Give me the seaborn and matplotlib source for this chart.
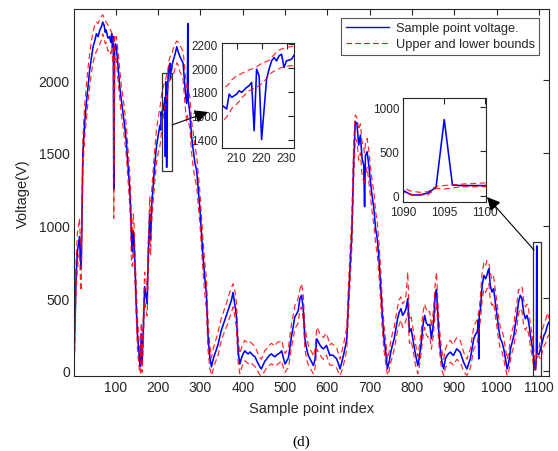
import matplotlib
matplotlib.use("Agg")
import matplotlib.pyplot as plt
from matplotlib.lines import Line2D
from matplotlib.patches import Rectangle, FancyArrowPatch
import seaborn as sns
import pandas as pd

# ---------------- data ----------------
sample_idx = [1, 3, 6, 9, 12, 14, 16, 18, 20, 22, 26, 30, 34, 38, 42, 46, 50, 54, 58, 62,
              66, 69, 72, 75, 77, 81, 85, 88, 90, 92, 94, 95, 97, 99, 101, 105, 109, 113, 117, 121,
              125, 129, 133, 135, 137, 139, 141, 143, 146, 148, 151, 154, 156, 158, 160, 162, 165, 168, 171, 174,
              176, 178, 180, 182, 185, 188, 192, 196, 200, 204, 206, 207, 208, 210, 211, 212, 214, 215, 216, 217,
              218, 219, 220, 222, 223, 224, 225, 226, 227, 228, 229, 230, 232, 233, 236, 240, 244, 248, 251, 255,
              259, 263, 267, 269, 270, 271, 275, 279, 283, 287, 291, 295, 299, 303, 306, 310, 314, 318, 322, 326,
              330, 334, 338, 342, 346, 349, 353, 357, 361, 365, 369, 373, 377, 381, 385, 389, 393, 397, 401, 405,
              409, 413, 417, 421, 425, 429, 433, 437, 441, 444, 448, 452, 456, 460, 464, 468, 472, 476, 480, 484,
              488, 492, 496, 500, 504, 508, 512, 515, 519, 523, 527, 531, 535, 539, 543, 547, 551, 555, 559, 563,
              567, 571, 575, 579, 583, 587, 591, 595, 598, 602, 606, 610, 614, 618, 622, 626, 630, 634, 638, 642,
              646, 650, 654, 658, 662, 666, 670, 674, 678, 682, 686, 688, 690, 694, 698, 702, 706, 710, 714, 718,
              722, 726, 730, 734, 738, 742, 746, 750, 754, 758, 762, 766, 770, 774, 778, 782, 786, 790, 794, 798,
              802, 806, 810, 814, 818, 822, 826, 830, 834, 838, 842, 846, 851, 855, 858, 861, 863, 867, 871, 875,
              879, 883, 887, 891, 895, 898, 902, 906, 910, 914, 918, 922, 926, 930, 934, 938, 942, 946, 950, 954,
              956, 957, 958, 959, 962, 966, 970, 974, 977, 980, 982, 985, 989, 993, 997, 1001, 1005, 1009, 1013, 1017,
              1021, 1025, 1029, 1033, 1037, 1041, 1044, 1048, 1052, 1056, 1060, 1064, 1068, 1072, 1076, 1080, 1084, 1088, 1090, 1091,
              1092, 1093, 1094, 1095, 1096, 1097, 1100, 1104, 1108, 1112, 1116, 1120, 1124]

voltage = [30, 300, 650, 820, 880, 925, 780, 700, 1100, 1500, 1700, 1840, 1950, 2070, 2150, 2230, 2270, 2320, 2300, 2345,
           2370, 2400, 2380, 2330, 2345, 2290, 2300, 2260, 2320, 2230, 2300, 1250, 2200, 2250, 2230, 2100, 1960, 1860, 1770, 1680,
           1565, 1400, 1240, 1100, 900, 820, 965, 900, 650, 460, 250, 150, 60, 30, 255, 50, 300, 580, 520, 460,
           740, 900, 1080, 900, 1150, 1270, 1420, 1545, 1620, 1690, 1657, 1782, 1754, 1782, 1810, 1796, 1838, 1852, 1880, 1475,
           1991, 1935, 1400, 1907, 1991, 2060, 2088, 2060, 2102, 2116, 2005, 2060, 2074, 2108, 2140, 2180, 2230, 2190, 2165, 2140,
           2117, 1960, 1840, 1900, 2390, 1865, 1772, 1613, 1517, 1428, 1380, 1240, 1103, 924, 786, 648, 531, 235, 97, 28,
           80, 117, 150, 186, 240, 276, 310, 345, 380, 414, 450, 483, 540, 462, 380, 138, 48, 90, 120, 138,
           125, 117, 130, 117, 105, 97, 70, 48, 25, 14, 40, 66, 80, 97, 110, 117, 105, 97, 110, 117,
           125, 138, 90, 48, 70, 90, 170, 235, 300, 372, 390, 414, 497, 520, 428, 221, 152, 106, 83, 60,
           37, 83, 221, 198, 175, 160, 152, 165, 175, 140, 106, 110, 106, 95, 83, 50, 14, 60, 106, 160,
           221, 497, 726, 958, 1415, 1715, 1700, 1553, 1622, 1462, 1415, 1130, 1480, 1508, 1415, 1300, 1200, 1117, 980, 910,
           772, 588, 381, 221, 130, 14, 60, 130, 180, 221, 290, 359, 405, 428, 382, 400, 428, 497, 267, 290,
           220, 152, 90, 37, 106, 198, 313, 382, 330, 313, 320, 221, 336, 520, 560, 400, 290, 152, 60, 14,
           83, 106, 120, 129, 115, 106, 130, 152, 140, 129, 95, 60, 35, 14, 50, 83, 150, 221, 250, 267,
           300, 350, 83, 380, 428, 588, 657, 634, 657, 690, 703, 588, 543, 566, 474, 382, 290, 221, 198, 152,
           83, 14, 60, 152, 198, 244, 313, 382, 474, 520, 497, 405, 359, 382, 336, 244, 175, 83, 57, 8,
           8, 30, 95, 860, 121, 114, 114, 152, 198, 244, 267, 313, 336]

upper_bound = [80, 420, 760, 950, 1000, 1050, 900, 850, 1250, 1600, 1820, 1960, 2080, 2180, 2270, 2330, 2380, 2400, 2390, 2420,
               2440, 2450, 2430, 2410, 2400, 2380, 2360, 2340, 2330, 2300, 2280, 1400, 2300, 2280, 2300, 2200, 2080, 1960, 1880, 1780,
               1680, 1520, 1350, 1220, 1000, 950, 1080, 1000, 760, 580, 360, 250, 150, 100, 330, 130, 400, 680, 620, 560,
               860, 1000, 1200, 1020, 1260, 1380, 1530, 1660, 1740, 1810, 1850, 1870, 1900, 1935, 1945, 1955, 1975, 1985, 1991, 2000,
               2010, 2025, 2040, 2055, 2065, 2090, 2110, 2140, 2150, 2160, 2165, 2175, 2180, 2186, 2220, 2250, 2270, 2260, 2240, 2220,
               2200, 2080, 1950, 1980, 1950, 1940, 1880, 1720, 1640, 1540, 1480, 1350, 1220, 1040, 900, 760, 640, 340, 180, 90,
               150, 190, 230, 270, 320, 360, 390, 430, 460, 500, 540, 570, 600, 560, 470, 220, 120, 160, 190, 210,
               200, 190, 200, 190, 180, 170, 140, 110, 90, 80, 110, 140, 150, 170, 180, 190, 180, 170, 190, 200,
               200, 210, 160, 120, 140, 160, 250, 320, 380, 450, 470, 500, 560, 600, 520, 300, 230, 180, 150, 130,
               100, 150, 300, 280, 250, 240, 230, 250, 260, 220, 180, 190, 180, 170, 160, 120, 80, 130, 180, 240,
               300, 600, 840, 1080, 1550, 1760, 1740, 1660, 1700, 1580, 1530, 1500, 1560, 1600, 1520, 1400, 1310, 1230, 1100, 1020,
               880, 700, 480, 310, 210, 80, 130, 210, 260, 300, 370, 440, 490, 510, 460, 480, 520, 680, 350, 370,
               300, 230, 160, 100, 180, 280, 400, 460, 420, 400, 410, 300, 420, 600, 680, 490, 380, 230, 130, 80,
               150, 180, 200, 210, 190, 180, 210, 230, 220, 210, 170, 130, 100, 80, 120, 150, 230, 300, 330, 350,
               380, 400, 410, 420, 520, 680, 740, 720, 760, 750, 740, 680, 630, 650, 560, 470, 370, 300, 280, 230,
               150, 80, 130, 230, 280, 320, 400, 460, 560, 560, 580, 490, 440, 460, 420, 320, 250, 150, 83, 50,
               38, 45, 106, 115, 121, 130, 144, 230, 280, 320, 350, 400, 360]

lower_bound = [0, 200, 560, 700, 780, 820, 650, 550, 1000, 1380, 1600, 1720, 1850, 1950, 2050, 2120, 2170, 2200, 2220, 2250,
               2280, 2320, 2290, 2250, 2260, 2200, 2210, 2180, 2230, 2150, 2100, 1050, 2120, 2150, 2140, 2000, 1880, 1760, 1680, 1580,
               1470, 1300, 1130, 1000, 740, 720, 860, 780, 540, 360, 150, 60, -10, -20, 160, -10, 200, 480, 420, 380,
               640, 800, 950, 800, 1040, 1160, 1300, 1430, 1500, 1545, 1590, 1620, 1660, 1698, 1720, 1750, 1790, 1810, 1820, 1830,
               1840, 1852, 1870, 1910, 1949, 1960, 1975, 1985, 1995, 2005, 2010, 2015, 2020, 2019, 2040, 2080, 2120, 2100, 2060, 2040,
               2000, 1850, 1720, 1760, 1740, 1730, 1660, 1500, 1400, 1320, 1270, 1130, 1000, 820, 680, 540, 420, 140, 20, -30,
               10, 50, 80, 110, 170, 200, 240, 270, 300, 330, 370, 400, 440, 380, 300, 60, -20, 20, 50, 70,
               60, 50, 60, 50, 40, 30, 10, -10, -30, -30, -20, 0, 20, 30, 40, 50, 40, 30, 40, 50,
               60, 70, 20, -10, 10, 20, 100, 160, 220, 290, 310, 330, 420, 440, 350, 150, 80, 40, 20, 0,
               -20, 20, 150, 130, 110, 90, 80, 100, 110, 70, 40, 40, 40, 30, 20, -10, -30, 0, 40, 90,
               150, 400, 620, 850, 1300, 1600, 1580, 1450, 1500, 1350, 1300, 1280, 1350, 1400, 1300, 1200, 1090, 1000, 880, 800,
               660, 480, 280, 140, 50, -30, 0, 60, 100, 150, 210, 280, 320, 350, 300, 320, 350, 400, 190, 210,
               150, 80, 20, -20, 40, 130, 230, 300, 250, 230, 240, 150, 250, 430, 460, 320, 210, 80, 0, -30,
               20, 40, 50, 60, 50, 40, 60, 80, 70, 60, 30, 0, -20, -30, -10, 20, 80, 150, 170, 190,
               220, 260, 270, 290, 350, 490, 560, 540, 560, 580, 600, 490, 450, 470, 380, 300, 210, 150, 130, 80,
               20, -30, 0, 80, 130, 170, 230, 300, 390, 430, 410, 320, 280, 300, 250, 170, 100, 30, 38, 15,
               8, 8, 83, 76, 85, 100, 102, 80, 130, 170, 190, 230, 250]

x_ticks = [100, 200, 300, 400, 500, 600, 700, 800, 900, 1000, 1100]
y_ticks = [0, 500, 1000, 1500, 2000]
inset1_xticks = [210, 220, 230]
inset1_yticks = [1400, 1600, 1800, 2000, 2200]
inset2_xticks = [1090, 1095, 1100]
inset2_yticks = [0, 500, 1000]
legend_labels = ["Sample point voltage.", "Upper and lower bounds"]

df = pd.DataFrame({"idx": sample_idx, "v": voltage, "up": upper_bound, "lo": lower_bound})

# ---------------- style ----------------
sns.set_style("white")
plt.rcParams["font.family"] = ["Liberation Sans", "DejaVu Sans"]
AX_COL = "#262626"
BLUE = "#0000FF"
RED = "#FF0000"

W, H = 558, 452
fig = plt.figure(figsize=(W / 100, H / 100), dpi=100)


def px_rect(l, t, r, b):
    return [l / W, 1 - b / H, (r - l) / W, (b - t) / H]


def style_axes(ax, fs):
    for s in ax.spines.values():
        s.set_visible(True)
        s.set_color(AX_COL)
        s.set_linewidth(0.8)
    ax.tick_params(direction="in", top=True, right=True, length=4, width=0.8,
                   colors=AX_COL, labelsize=fs, labelcolor=AX_COL, pad=3)


def draw_series(ax):
    sns.lineplot(data=df, x="idx", y="v", ax=ax, color=BLUE, lw=1.15,
                 estimator=None, sort=False, legend=False)
    sns.lineplot(data=df, x="idx", y="up", ax=ax, color=RED, lw=0.85, alpha=0.85,
                 estimator=None, sort=False, legend=False, dashes=False, linestyle=(0, (5, 3)))
    sns.lineplot(data=df, x="idx", y="lo", ax=ax, color=RED, lw=0.85, alpha=0.85,
                 estimator=None, sort=False, legend=False, dashes=False, linestyle=(0, (5, 3)))
    ax.set_xlabel("")
    ax.set_ylabel("")


# ---------------- main axes ----------------
ax = fig.add_axes(px_rect(74, 10, 549, 377))
draw_series(ax)
ax.set_xlim(1, 1124)
ax.set_ylim(-35, 2490)
ax.set_xticks(x_ticks)
ax.set_yticks(y_ticks)
style_axes(ax, 10)
ax.set_xlabel("Sample point index", fontsize=10.5, color=AX_COL, labelpad=5)
ax.set_ylabel("Voltage(V)", fontsize=10.5, color=AX_COL, labelpad=6)

# zoom boxes
ax.add_patch(Rectangle((208, 1375), 25, 678, fill=False, ec="#333333", lw=0.9, zorder=5))
ax.add_patch(Rectangle((1087, -34), 17, 924, fill=False, ec="#333333", lw=0.9, zorder=5))

handles = [Line2D([], [], color=BLUE, lw=1.0),
           Line2D([], [], color=RED, lw=0.8, linestyle=(0, (5, 3)))]
leg = ax.legend(handles, legend_labels, loc="upper right",
                bbox_to_anchor=((539 - 74) / 475, (377 - 19) / 367),
                fontsize=9.2, frameon=True, fancybox=False, framealpha=1,
                edgecolor="#555555", handlelength=3.4, borderpad=0.35,
                labelspacing=0.3, handletextpad=0.5, borderaxespad=0)
leg.get_frame().set_linewidth(0.8)

# ---------------- inset 1 ----------------
ax1 = fig.add_axes(px_rect(221.7, 44, 294, 149))
draw_series(ax1)
ax1.set_xlim(204, 233)
ax1.set_ylim(1330, 2210)
ax1.set_xticks(inset1_xticks)
ax1.set_yticks(inset1_yticks)
style_axes(ax1, 8.5)

# ---------------- inset 2 ----------------
ax2 = fig.add_axes(px_rect(403.3, 99.3, 486, 203.3))
draw_series(ax2)
ax2.set_xlim(1090, 1100.1)
ax2.set_ylim(-75, 1100)
ax2.set_xticks(inset2_xticks)
ax2.set_yticks(inset2_yticks)
style_axes(ax2, 8.5)


# ---------------- arrows ----------------
def fpt(x, y):
    return (x / W, 1 - y / H)


arrow_kw = dict(arrowstyle="-|>", color="black", lw=0.8, mutation_scale=20,
                shrinkA=0, shrinkB=0)
fig.add_artist(FancyArrowPatch(fpt(172, 126), fpt(208, 113),
                               transform=fig.transFigure, **arrow_kw))
fig.add_artist(FancyArrowPatch(fpt(534, 251), fpt(487, 198),
                               transform=fig.transFigure, **arrow_kw))

fig.text(301 / W, 1 - 442 / H, "(d)", ha="center", va="center", fontsize=11,
         family=["Liberation Serif", "DejaVu Serif"], color="black")

fig.savefig("out.png", dpi=100)
